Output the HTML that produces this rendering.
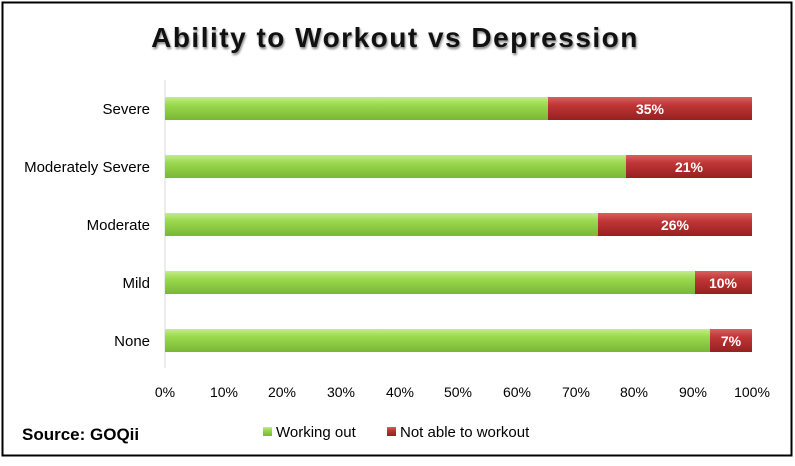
<!DOCTYPE html>
<html><head><meta charset="utf-8"><style>
body{margin:0;background:#fff;width:795px;height:461px;overflow:hidden}
text{font-family:"Liberation Sans",sans-serif}
</style></head><body>
<svg width="795" height="461" viewBox="0 0 795 461">
<defs>
<linearGradient id="g" x1="0" y1="0" x2="0" y2="1">
<stop offset="0" stop-color="#c4ec8a"/><stop offset="0.35" stop-color="#9ad84e"/><stop offset="1" stop-color="#79b735"/></linearGradient>
<linearGradient id="r" x1="0" y1="0" x2="0" y2="1">
<stop offset="0" stop-color="#d86060"/><stop offset="0.35" stop-color="#c03636"/><stop offset="1" stop-color="#962020"/></linearGradient>
</defs>
<rect x="2.5" y="2.5" width="789" height="453" fill="#fff" stroke="#000" stroke-width="2"/>
<text x="395" y="47" text-anchor="middle" font-size="28" font-weight="bold" fill="#111" letter-spacing="1.5" style="text-shadow:1px 2px 2px #888">Ability to Workout vs Depression</text>
<line x1="165" y1="80" x2="165" y2="368" stroke="#d9d9d9"/>
<g font-size="15" fill="#000" text-anchor="end">
<text x="150" y="114">Severe</text>
<text x="150" y="172">Moderately Severe</text>
<text x="150" y="230">Moderate</text>
<text x="150" y="288">Mild</text>
<text x="150" y="346">None</text>
</g>
<g>
<rect x="165" y="97" width="383" height="23" fill="url(#g)"/><rect x="548" y="97" width="204" height="23" fill="url(#r)"/>
<rect x="165" y="155" width="461" height="23" fill="url(#g)"/><rect x="626" y="155" width="126" height="23" fill="url(#r)"/>
<rect x="165" y="213" width="433" height="23" fill="url(#g)"/><rect x="598" y="213" width="154" height="23" fill="url(#r)"/>
<rect x="165" y="271" width="530" height="23" fill="url(#g)"/><rect x="695" y="271" width="57" height="23" fill="url(#r)"/>
<rect x="165" y="329" width="545" height="23" fill="url(#g)"/><rect x="710" y="329" width="42" height="23" fill="url(#r)"/>
</g>
<g font-size="14" font-weight="bold" fill="#fff" text-anchor="middle">
<text x="650" y="114">35%</text>
<text x="689" y="172">21%</text>
<text x="675" y="230">26%</text>
<text x="723" y="288">10%</text>
<text x="731" y="346">7%</text>
</g>
<g font-size="14" fill="#000" text-anchor="middle">
<text x="165" y="397">0%</text><text x="224" y="397">10%</text><text x="282" y="397">20%</text><text x="341" y="397">30%</text><text x="400" y="397">40%</text><text x="458" y="397">50%</text><text x="517" y="397">60%</text><text x="576" y="397">70%</text><text x="634" y="397">80%</text><text x="693" y="397">90%</text><text x="752" y="397">100%</text>
</g>
<text x="22" y="440" font-size="17" font-weight="bold" fill="#000">Source: GOQii</text>
<rect x="263" y="427" width="9" height="9" fill="url(#g)"/>
<text x="276" y="437" font-size="15" fill="#000">Working out</text>
<rect x="387" y="427" width="9" height="9" fill="url(#r)"/>
<text x="400" y="437" font-size="15" fill="#000">Not able to workout</text>
</svg>
</body></html>
